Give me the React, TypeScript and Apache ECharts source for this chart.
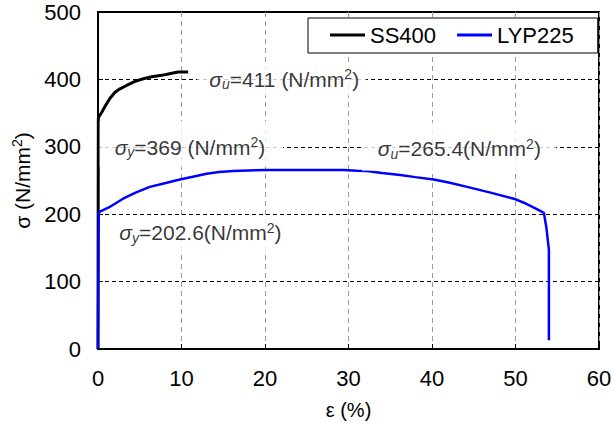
import React, { useEffect, useRef } from "react";
import * as echarts from "echarts";

// SS400 stress-strain curve (strain %, stress N/mm2)
const ss400Strain = [0, 0.02, 0.04, 0.44, 0.84, 1.44, 2.04, 2.63, 3.43, 4.43, 5.43, 6.43, 7.63, 8.83, 9.62, 10.8];
const ss400Stress = [0, 200, 343, 351, 360, 372, 381, 386, 391, 397, 401, 404, 406, 409, 411, 411];

// LYP225 stress-strain curve
const lypStrain = [0, 0.03, 0.06, 0.1, 1.3, 3.0, 4.5, 6.2, 8.0, 9.8, 11.5, 13.0, 14.5, 16.2, 18.0, 20.2, 25.0, 29.4, 31.0, 32.2, 34.0, 36.2, 38.0, 40.2, 42.0, 44.2, 47.0, 49.8, 51.0, 52.5, 53.4, 53.7, 54.0, 54.0];
const lypStress = [0, 100, 170, 203, 210, 223, 232, 240.5, 246, 251.5, 256, 260, 262.5, 264, 265, 265.4, 265.4, 265.4, 264.5, 264, 261, 258, 255, 251.5, 247, 240.5, 232, 223, 217, 208, 202, 180, 147, 13];

const seriesNames = ["SS400", "LYP225"];
const xTicks = { min: 0, max: 60, interval: 10 };
const yTicks = { min: 0, max: 500, interval: 100 };

// annotation anchors (strain, stress) and texts
const annotations = [
  { at: [11.9, 400], sym: "σ", sub: "u", text: "=411 (N/mm", tail: ")", pad: [4, 7, 4, 12] },
  { at: [0.2, 304], sym: "σ", sub: "y", text: "=369 (N/mm", tail: ")", pad: [14, 18, 8, 15] },
  { at: [31.6, 300], sym: "σ", sub: "u", text: "=265.4(N/mm", tail: ")", pad: [14, 15, 10, 16] },
  { at: [1.6, 168], sym: "σ", sub: "y", text: "=202.6(N/mm", tail: ")", pad: [2, 6, 8, 8] },
];

const FONT = "Liberation Sans, Arial, sans-serif";

export default function App() {
  const ref = useRef<HTMLDivElement>(null);
  useEffect(() => {
    if (!ref.current) return;
    const chart = echarts.init(ref.current, null, { renderer: "svg" });
    const richAnn = {
      s: { fontFamily: FONT, fontSize: 21, fontStyle: "italic", lineHeight: 24, color: "#000" },
      sub: { fontFamily: FONT, fontSize: 14, fontStyle: "italic", lineHeight: 14, verticalAlign: "bottom", color: "#000" },
      t: { fontFamily: FONT, fontSize: 21, lineHeight: 24, color: "#000" },
      sup: { fontFamily: FONT, fontSize: 14, lineHeight: 14, verticalAlign: "top", color: "#000" },
    };
    const annSeries = annotations.map((a) => ({
      type: "scatter",
      silent: true,
      symbolSize: 0,
      z: 5,
      data: [a.at],
      label: {
        show: true,
        position: [0, 0],
        align: "left",
        verticalAlign: "middle",
        backgroundColor: "#fff",
        padding: a.pad,
        formatter: `{s|${a.sym}}{sub|${a.sub}}{t|${a.text}}{sup|2}{t|${a.tail}}`,
        rich: richAnn,
      },
    }));
    chart.setOption({
      animation: false,
      backgroundColor: "#fff",
      grid: { left: 98, right: 16, top: 12, bottom: 75, show: true, borderColor: "#000", borderWidth: 2, backgroundColor: "transparent" },
      legend: {
        data: seriesNames.map((n) => ({ name: n })),
        left: 308,
        top: 18,
        icon: "rect",
        itemWidth: 35,
        itemHeight: 3,
        itemGap: 21,
        padding: [6, 24, 7, 22],
        borderColor: "#000",
        borderWidth: 1,
        borderRadius: 0,
        backgroundColor: "#fff",
        textStyle: { fontFamily: FONT, fontSize: 22, color: "#000" },
      },
      xAxis: {
        type: "value",
        min: xTicks.min,
        max: xTicks.max,
        interval: xTicks.interval,
        name: "ε (%)",
        nameLocation: "middle",
        nameGap: 51,
        nameTextStyle: { fontFamily: FONT, fontSize: 20, color: "#000" },
        axisLine: { show: true, lineStyle: { color: "#000", width: 2 } },
        axisTick: { show: true, inside: true, length: 5, lineStyle: { color: "#000", width: 1 } },
        axisLabel: { fontFamily: FONT, fontSize: 22, color: "#000", margin: 18 },
        splitLine: { show: true, lineStyle: { color: "#999", type: [5, 4], width: 1 } },
      },
      yAxis: {
        type: "value",
        min: yTicks.min,
        max: yTicks.max,
        interval: yTicks.interval,
        name: "{a|σ (N/mm}{sup|2}{a|)}",
        nameLocation: "middle",
        nameGap: 64,
        nameTextStyle: {
          rich: {
            a: { fontFamily: FONT, fontSize: 21, lineHeight: 24, color: "#000" },
            sup: { fontFamily: FONT, fontSize: 14, lineHeight: 14, verticalAlign: "top", color: "#000" },
          },
        },
        axisLine: { show: true, lineStyle: { color: "#000", width: 2 } },
        axisTick: { show: true, inside: true, length: 5, lineStyle: { color: "#000", width: 1 } },
        axisLabel: { fontFamily: FONT, fontSize: 22, color: "#000", margin: 17 },
        splitLine: { show: true, lineStyle: { color: "#000", type: [4, 3], width: 1 } },
      },
      series: [
        {
          name: seriesNames[0],
          type: "line",
          symbol: "none",
          z: 3,
          data: ss400Strain.map((x, i) => [x, ss400Stress[i]]),
          lineStyle: { color: "#000", width: 3 },
          itemStyle: { color: "#000" },
        },
        {
          name: seriesNames[1],
          type: "line",
          symbol: "none",
          z: 3,
          data: lypStrain.map((x, i) => [x, lypStress[i]]),
          lineStyle: { color: "#0000ff", width: 2.5 },
          itemStyle: { color: "#0000ff" },
        },
        ...annSeries,
      ],
    });
    return () => chart.dispose();
  }, []);
  return <div ref={ref} style={{ width: 615, height: 425, position: "absolute", left: 0, top: 0 }} />;
}
